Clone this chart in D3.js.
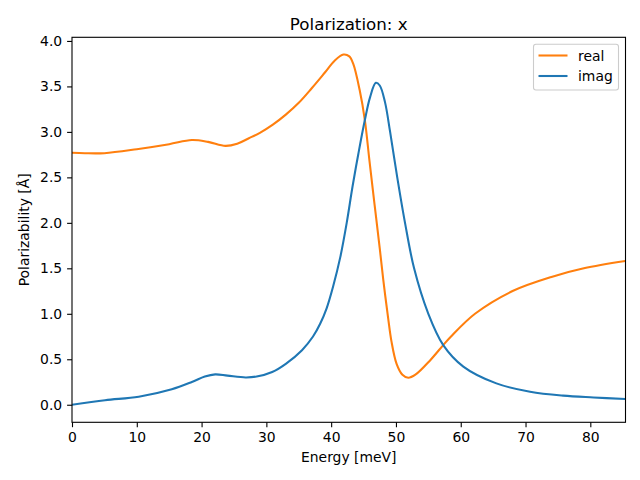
<!DOCTYPE html>
<html>
<head>
<meta charset="utf-8">
<script src="https://cdn.jsdelivr.net/npm/d3@7"></script>
<style>
  body { margin: 0; background: #fff; }
  text { font-family: "DejaVu Sans", sans-serif; }
</style>
</head>
<body>
<svg id="chart" width="640" height="480"></svg>
<script>
const realE = [0, 2, 5, 10, 15, 18.5, 21, 23.7, 25.5, 27.3, 29, 31, 33, 35, 37, 39, 40.5, 41.9, 42.8, 43.4, 44.4, 45.2, 45.9, 46.7, 47.5, 48.05, 48.8, 49.3, 50.1, 51, 51.9, 53, 55.3, 57.3, 58.5, 62.2, 68, 74, 79, 85.4];
const realV = [2.77, 2.765, 2.766, 2.81, 2.865, 2.91, 2.89, 2.846, 2.87, 2.93, 2.99, 3.08, 3.19, 3.32, 3.48, 3.65, 3.78, 3.85, 3.83, 3.75, 3.46, 3.13, 2.69, 2.2, 1.72, 1.37, 0.95, 0.70, 0.45, 0.33, 0.297, 0.33, 0.49, 0.656, 0.75, 1.0, 1.25, 1.405, 1.5, 1.58];
const imagE = [0, 5.1, 10.3, 15.4, 18.5, 20.5, 22.1, 24, 26.8, 28.5, 30.9, 33, 35.5, 37.2, 38.3, 39.3, 40.3, 41.4, 42.4, 43.3, 44.2, 45.2, 46, 46.9, 47.5, 48.3, 49.1, 50.2, 51.4, 52.8, 55, 57.3, 60.4, 65.5, 70.7, 75.8, 80.5, 85.4];
const imagV = [0.0, 0.05, 0.088, 0.17, 0.25, 0.31, 0.334, 0.32, 0.30, 0.31, 0.36, 0.45, 0.60, 0.75, 0.89, 1.06, 1.3, 1.62, 2.0, 2.4, 2.76, 3.13, 3.38, 3.54, 3.51, 3.33, 3.0, 2.5, 2.0, 1.5, 1.0, 0.656, 0.42, 0.235, 0.143, 0.10, 0.08, 0.063];
const xTicks = [0, 10, 20, 30, 40, 50, 60, 70, 80];
const yTicks = [0.0, 0.5, 1.0, 1.5, 2.0, 2.5, 3.0, 3.5, 4.0];
const seriesNames = ["real", "imag"];
const seriesColors = ["#ff7f0e", "#1f77b4"];

const svg = d3.select("#chart");
const L = 72, R = 625.5, T = 37.3, B = 422.3;
const FS = 13.9;
const x = d3.scaleLinear().domain([0, 85.43]).range([L, R]);
const y = d3.scaleLinear().domain([-0.193, 4.04]).range([B, T]);

svg.append("defs").append("clipPath").attr("id", "clip")
  .append("rect").attr("x", L).attr("y", T).attr("width", R - L).attr("height", B - T);

const xAxis = d3.axisBottom(x).tickValues(xTicks).tickFormat(d3.format("d")).tickSize(4.9).tickPadding(4.9);
const yAxis = d3.axisLeft(y).tickValues(yTicks).tickFormat(d3.format(".1f")).tickSize(4.9).tickPadding(4.9);

const gx = svg.append("g").attr("transform", `translate(0,${B})`).call(xAxis);
const gy = svg.append("g").attr("transform", `translate(${L},0)`).call(yAxis);
[gx, gy].forEach(g => {
  g.select(".domain").remove();
  g.selectAll("text").attr("font-size", FS).attr("fill", "#000").style("font-family", "DejaVu Sans");
  g.selectAll("line").attr("stroke", "#000").attr("stroke-width", 1.1);
});

const series = [
  { name: seriesNames[0], color: seriesColors[0], data: realE.map((e, i) => [e, realV[i]]) },
  { name: seriesNames[1], color: seriesColors[1], data: imagE.map((e, i) => [e, imagV[i]]) }
];
const line = d3.line().x(d => x(d[0])).y(d => y(d[1])).curve(d3.curveCatmullRom.alpha(0.5));
const plot = svg.append("g").attr("clip-path", "url(#clip)");
series.forEach(s => {
  plot.append("path").datum(s.data).attr("d", line)
    .attr("fill", "none").attr("stroke", s.color).attr("stroke-width", 2.08)
    .attr("stroke-linejoin", "round").attr("stroke-linecap", "square");
});

svg.append("rect").attr("x", L).attr("y", T).attr("width", R - L).attr("height", B - T)
  .attr("fill", "none").attr("stroke", "#000").attr("stroke-width", 1.1);

svg.append("text").attr("x", (L + R) / 2).attr("y", T - 7).attr("text-anchor", "middle")
  .attr("font-size", 16.7).text("Polarization: x");
svg.append("text").attr("x", (L + R) / 2).attr("y", 462).attr("text-anchor", "middle")
  .attr("font-size", FS).text("Energy [meV]");
svg.append("text").attr("transform", `translate(29,${(T + B) / 2}) rotate(-90)`).attr("text-anchor", "middle")
  .attr("font-size", FS).text("Polarizability [Å]");

const lg = svg.append("g");
lg.append("rect").attr("x", 533.5).attr("y", 44.3).attr("width", 85).attr("height", 45.7)
  .attr("rx", 2.5).attr("fill", "#fff").attr("fill-opacity", 0.8)
  .attr("stroke", "#cccccc").attr("stroke-width", 1.1);
series.forEach((s, i) => {
  const yy = 55.5 + i * 20.5;
  lg.append("line").attr("x1", 538.5).attr("x2", 567.5).attr("y1", yy).attr("y2", yy)
    .attr("stroke", s.color).attr("stroke-width", 2.08);
  lg.append("text").attr("x", 578).attr("y", yy + 5).attr("font-size", FS).text(s.name);
});
</script>
</body>
</html>
